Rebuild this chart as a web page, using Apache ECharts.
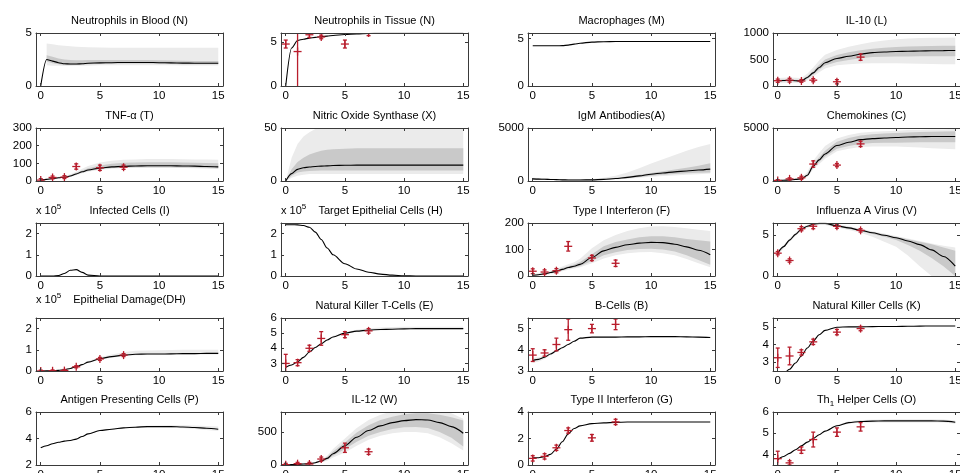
<!DOCTYPE html>
<html>
<head>
<meta charset="utf-8">
<script src="https://cdn.jsdelivr.net/npm/echarts@6/dist/echarts.min.js"></script>
<style>
html, body { margin: 0; padding: 0; background: #fff; }
#chart { width: 960px; height: 473px; }
</style>
</head>
<body>
<div id="chart"></div>
<script>
// model time grid (days) and observation days
var T = [0, 0.5, 1, 1.5, 2, 2.5, 3, 3.5, 4, 5, 6, 7, 8, 9, 10, 11, 12, 13, 14, 15];
var obsT = [0, 1, 2, 3, 5, 7];
var xTicks = [0, 5, 10, 15];

// Neutrophils in Blood
var nbMean = [0, 2.5, 2.35, 2.2, 2.1, 2.07, 2.07, 2.1, 2.15, 2.18, 2.2, 2.22, 2.22, 2.22, 2.2, 2.18, 2.16, 2.15, 2.15, 2.15];
var nbLo1 = [null, 2.3, 2.15, 2.05, 2.0, 1.98, 1.98, 2.0, 2.05, 2.08, 2.1, 2.12, 2.12, 2.12, 2.1, 2.08, 2.06, 2.05, 2.05, 2.05];
var nbHi1 = [null, 2.9, 2.75, 2.6, 2.5, 2.45, 2.42, 2.42, 2.45, 2.45, 2.45, 2.45, 2.45, 2.45, 2.42, 2.4, 2.38, 2.36, 2.35, 2.35];
var nbLo2 = [null, 1.95, 1.9, 1.9, 1.88, 1.88, 1.9, 1.9, 1.92, 1.95, 1.95, 1.95, 1.95, 1.95, 1.95, 1.95, 1.93, 1.93, 1.93, 1.93];
var nbHi2 = [null, 4.0, 3.95, 3.85, 3.8, 3.75, 3.7, 3.68, 3.66, 3.64, 3.62, 3.6, 3.6, 3.6, 3.6, 3.6, 3.6, 3.6, 3.6, 3.6];
// Neutrophils in Tissue
var ntMean = [0, 4.3, 5.15, 5.3, 5.42, 5.5, 5.58, 5.65, 5.72, 5.83, 5.9, 5.95, 5.97, 5.97, 5.97, 5.97, 5.97, 5.97, 5.97, 5.97];
var ntObs = [4.75, 3.9, 5.8, 5.55, 4.75, 6.0];
var ntErr = [0.45, 9, 0.3, 0.2, 0.45, 0.3];
// Macrophages
var mpMean = [4.25, 4.25, 4.25, 4.25, 4.25, 4.27, 4.32, 4.42, 4.52, 4.64, 4.68, 4.7, 4.7, 4.7, 4.7, 4.7, 4.7, 4.7, 4.7, 4.7];
// IL-10
var il10Mean = [100, 103, 106, 100, 95, 160, 247, 350, 440, 520, 560, 600, 630, 642, 650, 655, 660, 665, 668, 670];
var il10Lo1 = [80, 85, 88, 85, 82, 135, 215, 305, 385, 455, 490, 525, 545, 552, 556, 558, 560, 560, 560, 560];
var il10Hi1 = [120, 122, 124, 118, 112, 185, 285, 400, 500, 585, 635, 675, 705, 722, 735, 745, 750, 755, 758, 760];
var il10Lo2 = [50, 55, 58, 55, 50, 110, 180, 260, 330, 390, 410, 425, 430, 430, 430, 425, 420, 415, 410, 410];
var il10Hi2 = [150, 155, 160, 155, 150, 230, 350, 480, 590, 680, 740, 790, 830, 860, 880, 895, 905, 910, 912, 915];
var il10Obs = [100, 110, 95, 110, 80, 545];
var il10Err = [30, 35, 25, 30, 40, 60];
// TNF-alpha
var tnfMean = [5, 9, 14, 18, 21, 28, 40, 52, 62, 73, 80, 83, 85, 86, 86, 86, 85, 84, 82, 80];
var tnfLo1 = [4, 7, 12, 16, 19, 26, 37, 48, 57, 68, 74, 77, 78, 78, 78, 78, 77, 76, 74, 72];
var tnfHi1 = [6, 11, 17, 21, 24, 32, 45, 60, 72, 88, 98, 103, 105, 106, 106, 106, 105, 104, 102, 100];
var tnfLo2 = [3, 6, 11, 14, 17, 23, 33, 44, 52, 63, 70, 73, 74, 74, 74, 74, 73, 72, 70, 68];
var tnfHi2 = [8, 13, 19, 24, 28, 38, 53, 70, 85, 105, 115, 120, 122, 124, 124, 124, 123, 122, 121, 120];
var tnfObs = [5, 20, 22, 82, 75, 78];
var tnfErr = [8, 8, 8, 15, 15, 12];
// Nitric Oxide Synthase
var nosMean = [0, 7, 11, 12.5, 13.2, 13.7, 14, 14.3, 14.6, 14.8, 15, 15, 15, 15, 15, 15, 15, 15, 15, 15];
var nosLo1 = [0, 5, 8, 9, 9.5, 9.7, 9.8, 9.8, 9.8, 9.8, 9.8, 9.8, 9.8, 9.8, 9.8, 9.8, 9.8, 9.8, 9.8, 9.8];
var nosHi1 = [0, 11, 18, 22, 25, 27, 28.5, 29.5, 30, 30.5, 31, 31, 31, 31, 31, 31, 31, 31, 31, 31];
var nosLo2 = [0, 3, 5, 6, 6.5, 6.5, 6.5, 6.5, 6.5, 6.5, 6.5, 6.5, 6.5, 6.5, 6.5, 6.5, 6.5, 6.5, 6.5, 6.5];
var nosHi2 = [0, 22, 35, 42, 46, 49, 52, 55, 55, 55, 55, 55, 55, 55, 55, 55, 55, 55, 55, 55];
// IgM Antibodies
var igmMean = [200, 180, 160, 140, 130, 110, 100, 100, 100, 110, 150, 230, 340, 480, 640, 760, 860, 950, 1040, 1120];
var igmLo1 = [150, 140, 120, 100, 90, 80, 70, 70, 70, 80, 110, 180, 270, 380, 500, 590, 660, 720, 770, 800];
var igmHi1 = [280, 260, 230, 200, 180, 160, 140, 140, 140, 150, 200, 300, 430, 580, 760, 920, 1080, 1250, 1450, 1670];
var igmLo2 = [120, 110, 100, 90, 80, 70, 60, 60, 60, 70, 90, 150, 220, 300, 400, 470, 530, 590, 640, 700];
var igmHi2 = [300, 280, 250, 220, 200, 180, 160, 160, 160, 200, 300, 500, 800, 1200, 1650, 2050, 2450, 2850, 3200, 3500];
// Chemokines
var chemMean = [50, 70, 100, 150, 200, 545, 1400, 1990, 2550, 3350, 3650, 3900, 4000, 4050, 4100, 4150, 4180, 4200, 4200, 4200];
var chemLo1 = [30, 50, 80, 120, 170, 450, 1250, 1800, 2300, 3050, 3300, 3500, 3580, 3600, 3620, 3640, 3650, 3650, 3650, 3650];
var chemHi1 = [80, 100, 130, 180, 240, 650, 1600, 2250, 2850, 3700, 4050, 4300, 4420, 4480, 4530, 4580, 4620, 4650, 4680, 4700];
var chemLo2 = [10, 30, 60, 100, 140, 380, 1100, 1600, 2100, 2800, 3050, 3200, 3250, 3250, 3250, 3200, 3150, 3100, 3050, 3000];
var chemHi2 = [150, 180, 210, 260, 320, 850, 1900, 2650, 3300, 4000, 4350, 4550, 4650, 4700, 4750, 4800, 4820, 4850, 4870, 4900];
var chemObs = [50, 200, 300, 1600, 1500, 3500];
var chemErr = [80, 100, 150, 300, 150, 250];
// Infected Cells (x 10^5)
var infMean = [0, 0, 0, 0.02, 0.12, 0.27, 0.3, 0.17, 0.04, 0, 0, 0, 0, 0, 0, 0, 0, 0, 0, 0];
// Target Epithelial Cells (x 10^5)
var tgtMean = [2.42, 2.42, 2.41, 2.38, 2.3, 2.07, 1.72, 1.32, 1.0, 0.58, 0.33, 0.18, 0.09, 0.04, 0.01, 0, 0, 0, 0, 0];
// Type I Interferon
var ifn1Mean = [3, 5, 8, 13, 18, 25, 32, 37, 44, 70, 95, 108, 118, 124, 127, 126, 120, 110, 97, 80];
var ifn1Lo1 = [2, 4, 6, 10, 15, 21, 28, 32, 38, 57, 78, 90, 98, 102, 103, 100, 92, 78, 60, 42];
var ifn1Hi1 = [5, 7, 10, 16, 22, 30, 37, 43, 53, 82, 112, 128, 138, 146, 150, 150, 146, 140, 135, 130];
var ifn1Lo2 = [0, 2, 4, 8, 12, 18, 24, 28, 33, 48, 66, 78, 86, 90, 91, 86, 78, 64, 48, 33];
var ifn1Hi2 = [8, 10, 14, 20, 27, 36, 44, 52, 65, 105, 135, 155, 170, 180, 187, 188, 185, 180, 175, 170];
var ifn1Obs = [18, 15, 20, 112, 68, 48];
var ifn1Err = [9, 8, 8, 18, 10, 12];
// Influenza A Virus
var fluMean = [2.8, 3.6, 4.4, 5.1, 5.75, 6.1, 6.35, 6.45, 6.45, 6.15, 5.9, 5.6, 5.3, 5.0, 4.7, 4.3, 3.85, 3.2, 2.4, 1.2];
var fluLo1 = [2.7, 3.5, 4.3, 5.0, 5.65, 6.0, 6.25, 6.35, 6.35, 6.05, 5.8, 5.5, 5.15, 4.8, 4.4, 3.8, 3.1, 2.2, 1.2, 0];
var fluHi1 = [2.9, 3.7, 4.5, 5.2, 5.85, 6.2, 6.45, 6.55, 6.55, 6.25, 6.0, 5.7, 5.4, 5.1, 4.8, 4.5, 4.2, 3.9, 3.5, 3.1];
var fluLo2 = [2.6, 3.4, 4.2, 4.9, 5.55, 5.9, 6.15, 6.25, 6.25, 5.95, 5.65, 5.3, 4.8, 4.2, 3.6, 2.5, 1.2, 0, 0, 0];
var fluHi2 = [3.0, 3.8, 4.6, 5.3, 5.95, 6.3, 6.55, 6.6, 6.6, 6.35, 6.1, 5.8, 5.5, 5.2, 4.9, 4.6, 4.3, 4.0, 3.7, 3.5];
var fluObs = [2.8, 1.9, 5.8, 6.1, 6.1, 5.6];
var fluErr = [0.2, 0.2, 0.25, 0.3, 0.25, 0.2];
// Epithelial Damage (x 10^5)
var dmgMean = [0, 0.005, 0.015, 0.03, 0.06, 0.12, 0.2, 0.3, 0.42, 0.58, 0.68, 0.75, 0.79, 0.8, 0.8, 0.81, 0.82, 0.82, 0.83, 0.83];
var dmgLo2 = [0, 0, 0.01, 0.02, 0.05, 0.1, 0.18, 0.27, 0.38, 0.53, 0.63, 0.7, 0.74, 0.75, 0.75, 0.76, 0.77, 0.77, 0.78, 0.78];
var dmgHi2 = [0, 0.01, 0.02, 0.04, 0.07, 0.14, 0.23, 0.34, 0.47, 0.65, 0.78, 0.88, 0.95, 0.97, 0.98, 0.99, 1.0, 1.0, 1.0, 1.0];
var dmgObs = [0, 0.01, 0.02, 0.2, 0.57, 0.75];
var dmgErr = [0.04, 0.04, 0.05, 0.05, 0.07, 0.07];
// Natural Killer T-Cells
var nktMean = [2.75, 2.9, 3.1, 3.4, 3.75, 4.05, 4.3, 4.55, 4.75, 5.0, 5.13, 5.2, 5.24, 5.26, 5.28, 5.3, 5.3, 5.3, 5.3, 5.3];
var nktLo2 = [2.7, 2.85, 3.05, 3.35, 3.7, 4.0, 4.25, 4.5, 4.7, 4.95, 5.08, 5.15, 5.19, 5.21, 5.23, 5.25, 5.25, 5.25, 5.25, 5.25];
var nktHi2 = [2.8, 2.95, 3.15, 3.45, 3.8, 4.1, 4.35, 4.6, 4.82, 5.08, 5.23, 5.32, 5.37, 5.4, 5.42, 5.43, 5.43, 5.43, 5.43, 5.43];
var nktObs = [3.0, 3.05, 4.0, 4.65, 4.9, 5.15];
var nktErr = [0.6, 0.2, 0.2, 0.45, 0.2, 0.15];
// B-Cells
var bcMean = [3.5, 3.55, 3.65, 3.8, 3.95, 4.1, 4.25, 4.4, 4.55, 4.6, 4.6, 4.6, 4.61, 4.61, 4.62, 4.62, 4.62, 4.61, 4.6, 4.58];
var bcLo2 = [3.38, 3.45, 3.57, 3.74, 3.9, 4.06, 4.22, 4.37, 4.52, 4.58, 4.58, 4.58, 4.59, 4.59, 4.6, 4.6, 4.6, 4.59, 4.58, 4.56];
var bcHi2 = [3.62, 3.65, 3.73, 3.86, 4.0, 4.14, 4.28, 4.43, 4.58, 4.63, 4.63, 4.63, 4.64, 4.64, 4.65, 4.65, 4.65, 4.64, 4.63, 4.61];
var bcObs = [3.75, 3.85, 4.25, 4.95, 5.0, 5.2];
var bcErr = [0.3, 0.15, 0.3, 0.5, 0.2, 0.25];
// Natural Killer Cells
var nkMean = [2.3, 2.35, 2.6, 2.95, 3.35, 3.8, 4.2, 4.55, 4.8, 4.98, 5.0, 5.0, 5.01, 5.02, 5.02, 5.03, 5.04, 5.05, 5.05, 5.05];
var nkObs = [3.25, 3.35, 3.55, 4.15, 4.7, 4.9];
var nkErr = [0.55, 0.5, 0.15, 0.15, 0.15, 0.12];
// Antigen Presenting Cells
var apcMean = [3.3, 3.45, 3.6, 3.72, 3.8, 3.85, 3.95, 4.15, 4.35, 4.6, 4.7, 4.8, 4.85, 4.9, 4.9, 4.9, 4.87, 4.83, 4.77, 4.7];
var apcLo2 = [3.28, 3.43, 3.58, 3.7, 3.78, 3.83, 3.93, 4.13, 4.33, 4.58, 4.68, 4.77, 4.81, 4.85, 4.84, 4.82, 4.78, 4.72, 4.64, 4.56];
var apcHi2 = [3.32, 3.47, 3.62, 3.74, 3.82, 3.87, 3.97, 4.17, 4.37, 4.62, 4.73, 4.84, 4.9, 4.96, 4.98, 5.0, 5.0, 4.99, 4.95, 4.9];
// IL-12
var il12Mean = [0, 5, 10, 15, 20, 35, 60, 100, 170, 290, 420, 520, 590, 640, 670, 685, 680, 640, 580, 480];
var il12Lo1 = [0, 3, 7, 10, 14, 28, 50, 82, 140, 240, 350, 440, 500, 545, 570, 575, 560, 500, 410, 280];
var il12Hi1 = [0, 7, 13, 20, 26, 42, 72, 120, 205, 340, 490, 600, 680, 730, 765, 780, 780, 760, 720, 670];
var il12Lo2 = [0, 2, 5, 8, 10, 22, 40, 65, 115, 190, 290, 380, 440, 480, 500, 500, 480, 420, 330, 220];
var il12Hi2 = [0, 9, 16, 24, 32, 50, 85, 140, 240, 400, 560, 680, 760, 810, 830, 840, 840, 830, 780, 700];
var il12Obs = [5, 20, 15, 90, 260, 200];
var il12Err = [20, 20, 25, 30, 70, 40];
// Type II Interferon
var ifn2Mean = [0.55, 0.55, 0.62, 0.8, 1.2, 1.75, 2.35, 2.75, 2.95, 3.12, 3.18, 3.22, 3.24, 3.25, 3.25, 3.25, 3.25, 3.25, 3.25, 3.25];
var ifn2Obs = [0.5, 0.65, 1.3, 2.6, 2.05, 3.25];
var ifn2Err = [0.2, 0.2, 0.2, 0.2, 0.25, 0.2];
// Th1 Helper Cells
var th1Mean = [3.75, 3.9, 4.05, 4.22, 4.4, 4.58, 4.75, 4.93, 5.1, 5.35, 5.5, 5.55, 5.57, 5.58, 5.58, 5.58, 5.58, 5.58, 5.57, 5.52];
var th1Lo2 = [3.74, 3.89, 4.04, 4.21, 4.39, 4.57, 4.74, 4.92, 5.08, 5.32, 5.45, 5.5, 5.51, 5.51, 5.51, 5.51, 5.51, 5.51, 5.5, 5.45];
var th1Hi2 = [3.76, 3.91, 4.06, 4.23, 4.41, 4.59, 4.76, 4.94, 5.12, 5.39, 5.56, 5.62, 5.64, 5.65, 5.66, 5.66, 5.66, 5.66, 5.65, 5.6];
var th1Obs = [3.8, 3.6, 4.2, 4.7, 5.05, 5.3];
var th1Err = [0.35, 0.1, 0.15, 0.35, 0.2, 0.2];

var panels = [
  { title: 'Neutrophils in Blood (N)', y: [0, 5], ticks: [0, 5], mean: nbMean, b2: [nbLo2, nbHi2], b1: [nbLo1, nbHi1] },
  { title: 'Neutrophils in Tissue (N)', y: [0, 6], ticks: [0, 5], mean: ntMean, obs: ntObs, err: ntErr },
  { title: 'Macrophages (M)', y: [0, 5.6], ticks: [0, 5], mean: mpMean },
  { title: 'IL-10 (L)', y: [0, 1000], ticks: [0, 500, 1000], mean: il10Mean, b2: [il10Lo2, il10Hi2], b1: [il10Lo1, il10Hi1], obs: il10Obs, err: il10Err },
  { title: 'TNF-α (T)', y: [0, 300], ticks: [0, 100, 200, 300], mean: tnfMean, b2: [tnfLo2, tnfHi2], b1: [tnfLo1, tnfHi1], obs: tnfObs, err: tnfErr },
  { title: 'Nitric Oxide Synthase (X)', y: [0, 50], ticks: [0, 50], mean: nosMean, b2: [nosLo2, nosHi2], b1: [nosLo1, nosHi1] },
  { title: 'IgM Antibodies(A)', y: [0, 5000], ticks: [0, 5000], mean: igmMean, b2: [igmLo2, igmHi2], b1: [igmLo1, igmHi1] },
  { title: 'Chemokines (C)', y: [0, 5000], ticks: [0, 5000], mean: chemMean, b2: [chemLo2, chemHi2], b1: [chemLo1, chemHi1], obs: chemObs, err: chemErr },
  { title: 'Infected Cells (I)', y: [0, 2.5], ticks: [0, 1, 2], mean: infMean, exp: true },
  { title: 'Target Epithelial Cells (H)', y: [0, 2.5], ticks: [0, 1, 2], mean: tgtMean, exp: true },
  { title: 'Type I Interferon (F)', y: [0, 200], ticks: [0, 100, 200], mean: ifn1Mean, b2: [ifn1Lo2, ifn1Hi2], b1: [ifn1Lo1, ifn1Hi1], obs: ifn1Obs, err: ifn1Err },
  { title: 'Influenza A Virus (V)', y: [0, 6.5], ticks: [0, 5], mean: fluMean, b2: [fluLo2, fluHi2], b1: [fluLo1, fluHi1], obs: fluObs, err: fluErr },
  { title: 'Epithelial Damage(DH)', y: [0, 2.5], ticks: [0, 1, 2], mean: dmgMean, b2: [dmgLo2, dmgHi2], obs: dmgObs, err: dmgErr, exp: true, dy: -6 },
  { title: 'Natural Killer T-Cells (E)', y: [2.5, 6], ticks: [3, 4, 5, 6], mean: nktMean, b2: [nktLo2, nktHi2], obs: nktObs, err: nktErr },
  { title: 'B-Cells (B)', y: [3, 5.5], ticks: [3, 4, 5], mean: bcMean, b2: [bcLo2, bcHi2], obs: bcObs, err: bcErr },
  { title: 'Natural Killer Cells (K)', y: [2.5, 5.5], ticks: [3, 4, 5], mean: nkMean, obs: nkObs, err: nkErr },
  { title: 'Antigen Presenting Cells (P)', y: [2, 6], ticks: [2, 4, 6], mean: apcMean, b2: [apcLo2, apcHi2] },
  { title: 'IL-12 (W)', y: [0, 800], ticks: [0, 500], mean: il12Mean, b2: [il12Lo2, il12Hi2], b1: [il12Lo1, il12Hi1], obs: il12Obs, err: il12Err },
  { title: 'Type II Interferon (G)', y: [0, 4], ticks: [0, 2, 4], mean: ifn2Mean, obs: ifn2Obs, err: ifn2Err },
  { title: '{n|Th}{s|1}{n| Helper Cells (O)}', y: [3.5, 6], ticks: [4, 5, 6], mean: th1Mean, b2: [th1Lo2, th1Hi2], obs: th1Obs, err: th1Err, rich: true }
];

var colLeft = [36, 281, 528, 773];
var rowTop = [33, 128, 223, 318, 412];
var boxW = 187, boxH = 53;
var FONT = '"Liberation Sans", Arial, sans-serif';
var lightGray = '#ebebeb', darkGray = '#c9c9c9', red = '#b81d2c', frame = '#3a3a3a';

var grid = [], xAxis = [], yAxis = [], series = [], graphic = [];

function pairs (arr) {
  return T.map(function (t, i) { return [t, arr[i]]; });
}

// band = one polygon (upper edge forward, lower edge back), mapped through the axes
function addBand (k, lo, hi, color) {
  series.push({
    type: 'custom', xAxisIndex: 2 * k, yAxisIndex: 2 * k, clip: true, silent: true, z: 1,
    data: [[T[0], 0]], encode: { x: 0, y: 1 },
    renderItem: function (params, api) {
      var top = [], bot = [];
      T.forEach(function (t, i) {
        if (lo[i] == null || hi[i] == null) return;
        top.push(api.coord([t, hi[i]]));
        bot.unshift(api.coord([t, lo[i]]));
      });
      return { type: 'polygon', shape: { points: top.concat(bot) }, style: { fill: color, stroke: null } };
    }
  });
}

function renderErr (params, api) {
  var x = api.value(0), v = api.value(1), e = api.value(2);
  var p = api.coord([x, v]);
  var hi = api.coord([x, v + e]);
  var lo = api.coord([x, v - e]);
  var st = { stroke: red, lineWidth: 1.3, fill: null };
  return {
    type: 'group',
    children: [
      { type: 'line', shape: { x1: p[0], y1: hi[1], x2: p[0], y2: lo[1] }, style: st },
      { type: 'line', shape: { x1: p[0] - 2, y1: hi[1], x2: p[0] + 2, y2: hi[1] }, style: st },
      { type: 'line', shape: { x1: p[0] - 2, y1: lo[1], x2: p[0] + 2, y2: lo[1] }, style: st },
      { type: 'line', shape: { x1: p[0] - 4, y1: p[1], x2: p[0] + 4, y2: p[1] }, style: st },
      { type: 'line', shape: { x1: p[0], y1: p[1] - 4, x2: p[0], y2: p[1] + 4 }, style: st }
    ]
  };
}

function plainNum (v) { return String(v); }

panels.forEach(function (p, k) {
  var r = Math.floor(k / 4), c = k % 4;
  var left = colLeft[c], top = rowTop[r];
  grid.push({ left: left, top: top, width: boxW, height: boxH, outerBoundsMode: 'none', containLabel: false });

  var lineSt = { color: frame, width: 1 };
  xAxis.push({
    gridIndex: k, type: 'value', position: 'bottom', min: -0.4, max: 15.4, z: 10,
    axisLine: { show: true, onZero: false, lineStyle: lineSt },
    splitLine: { show: false },
    axisTick: { show: true, inside: true, length: 3, customValues: xTicks, lineStyle: lineSt },
    axisLabel: { customValues: xTicks, formatter: plainNum, fontSize: 11.5, fontFamily: FONT, color: '#000', margin: 4 }
  });
  xAxis.push({
    gridIndex: k, type: 'value', position: 'top', min: -0.4, max: 15.4, z: 10,
    axisLine: { show: true, onZero: false, lineStyle: lineSt },
    splitLine: { show: false },
    axisTick: { show: true, inside: true, length: 3, customValues: xTicks, lineStyle: lineSt },
    axisLabel: { show: false }
  });
  yAxis.push({
    gridIndex: k, type: 'value', position: 'left', min: p.y[0], max: p.y[1], z: 10,
    axisLine: { show: true, onZero: false, lineStyle: lineSt },
    splitLine: { show: false },
    axisTick: { show: true, inside: true, length: 3, customValues: p.ticks, lineStyle: lineSt },
    axisLabel: { customValues: p.ticks, formatter: plainNum, fontSize: 11.5, fontFamily: FONT, color: '#000', margin: 4 }
  });
  yAxis.push({
    gridIndex: k, type: 'value', position: 'right', min: p.y[0], max: p.y[1], z: 10,
    axisLine: { show: true, onZero: false, lineStyle: lineSt },
    splitLine: { show: false },
    axisTick: { show: true, inside: true, length: 3, customValues: p.ticks, lineStyle: lineSt },
    axisLabel: { show: false }
  });

  if (p.b2) addBand(k, p.b2[0], p.b2[1], lightGray);
  if (p.b1) addBand(k, p.b1[0], p.b1[1], darkGray);

  series.push({
    type: 'line', xAxisIndex: 2 * k, yAxisIndex: 2 * k, data: pairs(p.mean), silent: true,
    symbol: 'none', smooth: 0.3, smoothMonotone: 'x', clip: true,
    lineStyle: { color: '#000', width: 1.1 }, z: 3
  });

  if (p.obs) {
    series.push({
      type: 'custom', xAxisIndex: 2 * k, yAxisIndex: 2 * k, clip: true, silent: true,
      data: obsT.map(function (t, i) { return [t, p.obs[i], p.err[i]]; }),
      encode: { x: 0, y: 1 }, renderItem: renderErr, z: 4
    });
  }

  var ty = top - 12.5 + (p.dy || 0);
  var titleStyle = {
    text: p.title, font: '11px ' + FONT, fill: '#000',
    align: 'center', verticalAlign: 'middle', textAlign: 'center', textVerticalAlign: 'middle'
  };
  if (p.rich) {
    titleStyle.rich = {
      n: { fontSize: 11, fontFamily: FONT, lineHeight: 16, verticalAlign: 'middle' },
      s: { fontSize: 8, fontFamily: FONT, lineHeight: 8, verticalAlign: 'bottom' }
    };
  }
  graphic.push({ type: 'text', x: left + boxW / 2 + (p.exp && c === 1 ? 6 : 0), y: ty, style: titleStyle, z: 20 });
  if (p.exp) {
    graphic.push({
      type: 'text', x: left, y: ty, z: 20,
      style: {
        text: '{a|x 10}{b|5}', fill: '#000', font: '11px ' + FONT,
        align: 'left', verticalAlign: 'middle', textAlign: 'left', textVerticalAlign: 'middle',
        rich: {
          a: { fontSize: 11, fontFamily: FONT, lineHeight: 16, verticalAlign: 'middle' },
          b: { fontSize: 8, fontFamily: FONT, lineHeight: 8, verticalAlign: 'top' }
        }
      }
    });
  }
});

var chart = echarts.init(document.getElementById('chart'), null, { renderer: 'canvas' });
chart.setOption({
  backgroundColor: '#fff',
  animation: false,
  grid: grid,
  xAxis: xAxis,
  yAxis: yAxis,
  series: series,
  graphic: graphic
});
</script>
</body>
</html>
